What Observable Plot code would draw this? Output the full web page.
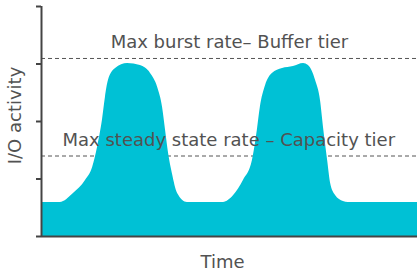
<!DOCTYPE html>
<html><head><meta charset="utf-8">
<script src="https://cdn.jsdelivr.net/npm/d3@7"></script>
<script src="https://cdn.jsdelivr.net/npm/@observablehq/plot@0.6"></script>
<style>html,body{margin:0;padding:0;background:#fff;}</style>
</head><body><div id="chart"></div>
<script>
const time = [0, 5.0, 8.5, 11.7, 13.6, 14.9, 16.2, 17.0, 17.8, 19.7, 22.9, 26.3, 29.0, 30.9, 32.2, 33.0, 33.8, 34.8, 36.2, 38.8,
  48.4, 51.1, 53.7, 56.1, 57.4, 58.2, 59.6, 61.4, 64.1, 67.0, 69.7, 71.0, 72.9, 74.2, 75.0, 76.1, 76.9, 78.2, 80.3, 81.6, 100];
const io = [14.8, 14.8, 18.7, 24.3, 30.0, 38.7, 50.4, 60.4, 67.8, 73.0, 75.2, 74.3, 70.9, 64.8, 56.1, 46.1, 36.1, 27.4, 18.7, 14.8,
  14.8, 17.8, 24.3, 33.0, 46.1, 56.1, 65.7, 70.9, 73.0, 73.9, 75.2, 74.3, 67.8, 59.1, 47.4, 33.0, 23.0, 17.8, 15.2, 14.8, 14.8];
const yTicks = [0, 25, 50, 75, 100];
const thresholds = [77.4, 35];
const thresholdLabels = ["Max burst rate– Buffer tier", "Max steady state rate – Capacity tier"];
const labelTime = [18.4, 5.6];
const labelIo = [81.9, 39.3];
const xLabel = "Time";
const yLabel = "I/O activity";

const data = time.map((t, i) => ({t, v: io[i]}));
const textColor = "#525252";
const font = "DejaVu Sans";
const chart = Plot.plot({
  width: 417, height: 277,
  marginLeft: 41, marginRight: 0, marginTop: 6, marginBottom: 41,
  style: {fontFamily: font, fontSize: "18px", background: "#fff", overflow: "visible"},
  x: {domain: [0, 100], axis: null},
  y: {domain: [0, 100], axis: null},
  marks: [
    Plot.ruleY(thresholds, {stroke: "#555", strokeDasharray: "4,3", strokeWidth: 1}),
    Plot.areaY(data, {x: "t", y: "v", fill: "#00c1d5", curve: "monotone-x"}),
    Plot.text(thresholdLabels, {x: (d, i) => labelTime[i], y: (d, i) => labelIo[i], text: d => d,
      textAnchor: "start", lineAnchor: "bottom", fontSize: 18, fontFamily: font, fill: textColor,
      letterSpacing: "0.72px"}),
    Plot.axisY(yTicks, {tickSize: 5, tickFormat: () => "", stroke: "#444", strokeWidth: 2, label: null}),
    Plot.ruleX([0], {y1: 0, y2: 100, stroke: "#444", strokeWidth: 2}),
    Plot.ruleY([0], {stroke: "#444", strokeWidth: 2}),
    Plot.text([yLabel], {frameAnchor: "left", textAnchor: "middle", lineAnchor: "middle", rotate: -90,
      dx: -26, dy: -6, fontSize: 18, fontFamily: font, fill: textColor}),
    Plot.text([xLabel], {frameAnchor: "bottom", textAnchor: "middle", dx: -7, dy: 31, lineAnchor: "bottom",
      fontSize: 18, fontFamily: font, fill: textColor, letterSpacing: "0.6px"})
  ]
});
document.getElementById("chart").appendChild(chart);
</script>
</body></html>
